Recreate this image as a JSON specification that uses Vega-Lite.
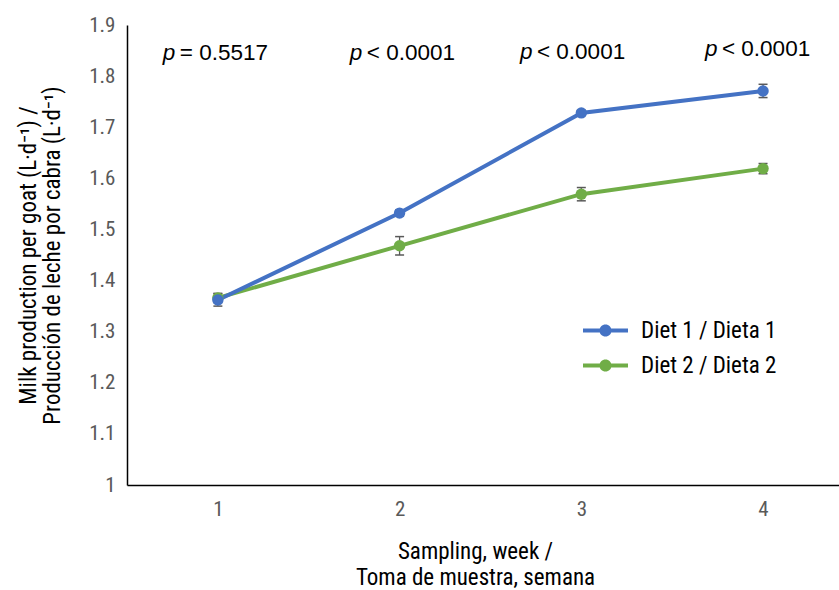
{
  "$schema": "https://vega.github.io/schema/vega-lite/v6.json",
  "width": 712,
  "height": 460,
  "autosize": "none",
  "padding": {"left": 127, "top": 25, "right": 0, "bottom": 105},
  "background": "white",
  "config": {"view": {"stroke": null}, "font": "Liberation Sans Narrow, Roboto Condensed, Roboto"},
  "datasets": {
    "milk": [
      {"week": 1, "diet": "Diet 2 / Dieta 2", "value": 1.366, "lo": 1.357, "hi": 1.375},
      {"week": 2, "diet": "Diet 2 / Dieta 2", "value": 1.468, "lo": 1.450, "hi": 1.486},
      {"week": 3, "diet": "Diet 2 / Dieta 2", "value": 1.569, "lo": 1.556, "hi": 1.582},
      {"week": 4, "diet": "Diet 2 / Dieta 2", "value": 1.619, "lo": 1.609, "hi": 1.629},
      {"week": 1, "diet": "Diet 1 / Dieta 1", "value": 1.362, "lo": 1.350, "hi": 1.374},
      {"week": 2, "diet": "Diet 1 / Dieta 1", "value": 1.532, "lo": 1.526, "hi": 1.538},
      {"week": 3, "diet": "Diet 1 / Dieta 1", "value": 1.728, "lo": 1.723, "hi": 1.733},
      {"week": 4, "diet": "Diet 1 / Dieta 1", "value": 1.771, "lo": 1.758, "hi": 1.784}
    ],
    "pvals": [
      {"pos": 0.989, "y": 1.845, "rest": "= 0.5517"},
      {"pos": 2.018, "y": 1.845, "rest": "< 0.0001"},
      {"pos": 2.954, "y": 1.847, "rest": "< 0.0001"},
      {"pos": 3.972, "y": 1.854, "rest": "< 0.0001"}
    ]
  },
  "layer": [
    {
      "data": {"name": "milk"},
      "mark": {"type": "rule", "color": "#595959", "strokeWidth": 1.3},
      "encoding": {
        "x": {
          "field": "week", "type": "quantitative",
          "scale": {"domain": [0.5, 4.418], "nice": false, "zero": false},
          "axis": {
            "values": [1, 2, 3, 4], "format": "d", "ticks": false, "grid": false,
            "domainColor": "black", "domainWidth": 1.5,
            "labelColor": "#595959", "labelFontSize": 21, "labelPadding": 13,
            "labelFont": "Liberation Sans Narrow, Roboto Condensed, Roboto",
            "title": ["Sampling, week /", "Toma de muestra, semana"],
            "titleFont": "Liberation Sans Narrow, Roboto Condensed, Roboto",
            "titleFontSize": 23, "titleFontWeight": "normal", "titleColor": "black",
            "titleX": 348, "titleY": 66, "titleAlign": "center", "titleBaseline": "middle",
            "titleLineHeight": 26
          }
        },
        "y": {
          "field": "lo", "type": "quantitative",
          "scale": {"domain": [1, 1.9], "nice": false, "zero": false},
          "axis": {
            "values": [1, 1.1, 1.2, 1.3, 1.4, 1.5, 1.6, 1.7, 1.8, 1.9], "format": ".1~f",
            "ticks": false, "grid": false,
            "domainColor": "black", "domainWidth": 1.5,
            "labelColor": "#595959", "labelFontSize": 21, "labelPadding": 12,
            "labelFont": "Liberation Sans Narrow, Roboto Condensed, Roboto",
            "title": ["Milk production per goat (L·d⁻¹) /", "Producción de leche por cabra (L·d⁻¹)"],
            "titleFont": "Liberation Sans Narrow, Roboto Condensed, Roboto",
            "titleFontSize": 23, "titleFontWeight": "normal", "titleColor": "black",
            "titleX": -99, "titleY": 230, "titleAngle": -90, "titleAlign": "center",
            "titleBaseline": "middle", "titleLineHeight": 24
          }
        },
        "y2": {"field": "hi"}
      }
    },
    {
      "data": {"name": "milk"},
      "mark": {"type": "tick", "orient": "horizontal", "color": "#595959", "size": 9, "thickness": 1.5, "opacity": 1},
      "encoding": {
        "x": {"field": "week", "type": "quantitative"},
        "y": {"field": "lo", "type": "quantitative"}
      }
    },
    {
      "data": {"name": "milk"},
      "mark": {"type": "tick", "orient": "horizontal", "color": "#595959", "size": 9, "thickness": 1.5, "opacity": 1},
      "encoding": {
        "x": {"field": "week", "type": "quantitative"},
        "y": {"field": "hi", "type": "quantitative"}
      }
    },
    {
      "data": {"name": "milk"},
      "mark": {"type": "line", "strokeWidth": 4},
      "encoding": {
        "x": {"field": "week", "type": "quantitative"},
        "y": {"field": "value", "type": "quantitative"},
        "color": {
          "field": "diet", "type": "nominal",
          "scale": {"domain": ["Diet 1 / Dieta 1", "Diet 2 / Dieta 2"], "range": ["#4472C4", "#70AD47"]},
          "legend": {
            "title": null, "orient": "none", "legendX": 456, "legendY": 283,
            "symbolType": "M-1,-0.09 L1,-0.09 L1,0.09 L-1,0.09 Z M-0.27,0 A0.27,0.27 0 1 1 0.27,0 A0.27,0.27 0 1 1 -0.27,0 Z",
            "symbolSize": 2025, "symbolStrokeWidth": 0,
            "labelFontSize": 23, "labelColor": "black",
            "labelFont": "Liberation Sans Narrow, Roboto Condensed, Roboto",
            "labelOffset": 13, "rowPadding": -2,
            "encode": {"symbols": {"update": {"fill": {"scale": "color", "field": "value"}, "stroke": {"value": "transparent"}, "opacity": {"value": 1}}}}
          }
        }
      }
    },
    {
      "data": {"name": "milk"},
      "mark": {"type": "point", "filled": true, "size": 130, "opacity": 1},
      "encoding": {
        "x": {"field": "week", "type": "quantitative"},
        "y": {"field": "value", "type": "quantitative"},
        "color": {"field": "diet", "type": "nominal"}
      }
    },
    {
      "data": {"name": "pvals"},
      "mark": {"type": "text", "text": "p", "fontStyle": "italic", "font": "Liberation Sans", "fontSize": 22.5, "align": "left", "baseline": "middle", "dx": -53, "color": "black"},
      "encoding": {
        "x": {"field": "pos", "type": "quantitative"},
        "y": {"field": "y", "type": "quantitative"}
      }
    },
    {
      "data": {"name": "pvals"},
      "mark": {"type": "text", "font": "Liberation Sans", "fontSize": 22.5, "align": "left", "baseline": "middle", "dx": -36, "color": "black"},
      "encoding": {
        "x": {"field": "pos", "type": "quantitative"},
        "y": {"field": "y", "type": "quantitative"},
        "text": {"field": "rest"}
      }
    }
  ]
}
